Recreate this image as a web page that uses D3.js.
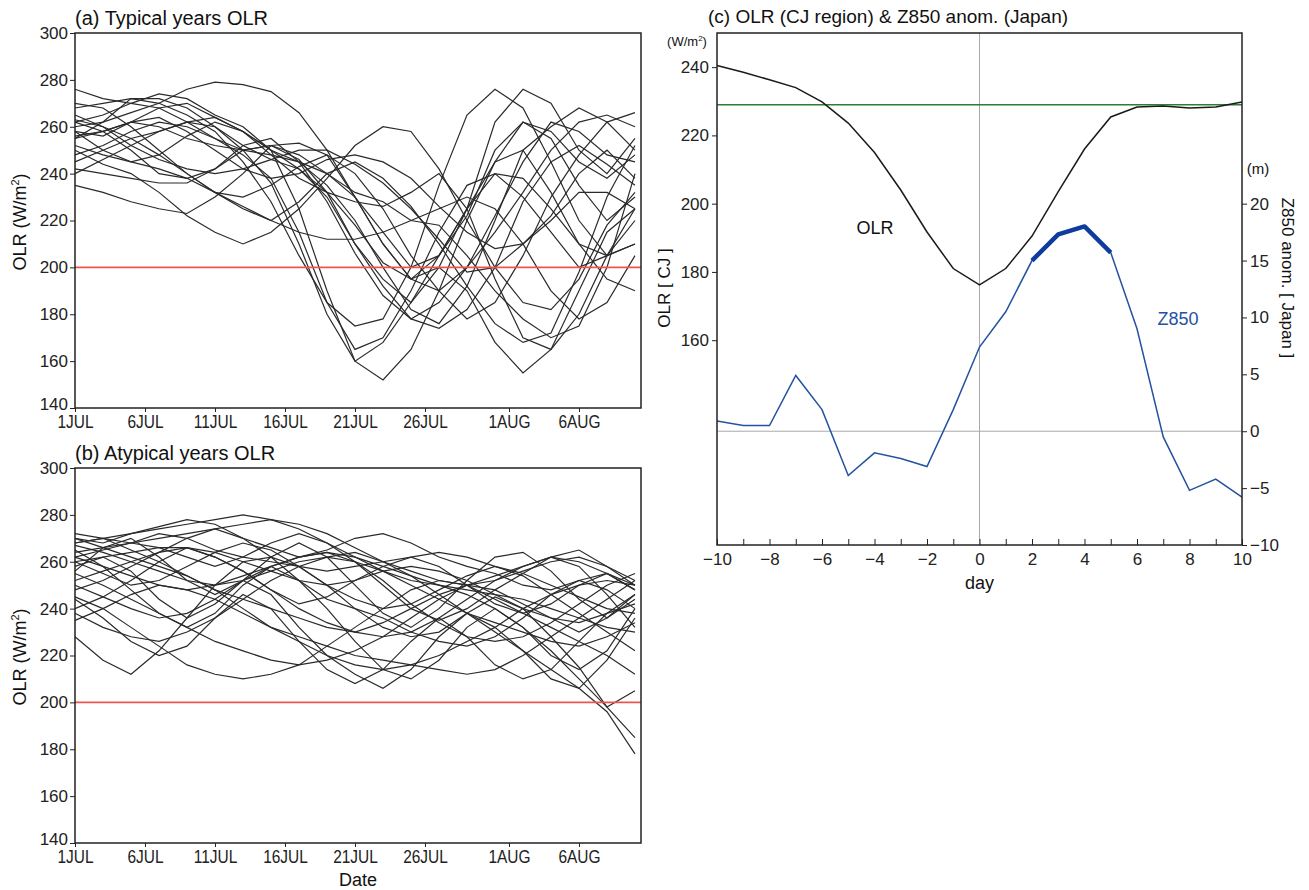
<!DOCTYPE html>
<html>
<head>
<meta charset="utf-8">
<script src="https://cdn.jsdelivr.net/npm/d3@7"></script>
<style>
  body { margin: 0; background: #fff; }
  svg { font-family: "Liberation Sans", Arial, sans-serif; }
</style>
</head>
<body>
<svg id="chart" width="1309" height="890"></svg>
<script>
// days since 1 JUL (every 2nd day)
const days = [0, 2, 4, 6, 8, 10, 12, 14, 16, 18, 20, 22, 24, 26, 28, 30, 32, 34, 36, 38, 40];
const dateTicks = [0, 5, 10, 15, 20, 25, 31, 36];
const dateLabels = ["1JUL", "6JUL", "11JUL", "16JUL", "21JUL", "26JUL", "1AUG", "6AUG"];
const olrTicks = [140, 160, 180, 200, 220, 240, 260, 280, 300];

// (a) typical years
const typical = [
  [276,272,270,268,262,255,248,238,215,185,165,170,190,215,235,240,230,215,200,205,220],
  [262,265,270,274,272,265,260,250,225,190,160,152,165,190,220,245,262,255,235,220,230],
  [260,262,266,270,276,279,278,275,266,250,230,210,195,200,225,262,276,270,250,240,255],
  [255,258,262,260,255,252,250,248,245,240,230,215,200,205,222,250,262,258,245,238,248],
  [258,250,245,248,256,262,258,248,238,232,228,226,232,240,225,195,170,165,180,205,225],
  [248,252,258,262,260,255,250,252,248,240,232,228,220,218,205,190,178,170,175,200,240],
  [240,246,252,258,262,260,250,236,210,180,160,168,185,205,225,240,238,225,210,205,210],
  [262,258,250,240,238,242,252,255,245,228,206,188,178,185,200,222,245,262,258,248,245],
  [258,256,262,268,270,264,258,250,242,230,210,195,185,200,190,168,155,165,190,215,225],
  [235,232,228,225,223,230,240,252,253,248,230,210,195,190,200,215,232,250,262,265,260],
  [252,248,245,242,238,232,225,220,228,240,245,238,226,210,192,176,168,172,198,230,252],
  [270,268,260,250,240,232,226,220,215,212,212,215,220,225,230,225,210,190,178,185,205],
  [245,250,255,258,262,264,258,250,245,235,220,200,182,176,192,220,250,260,268,262,250],
  [255,262,272,272,268,260,252,246,242,232,218,202,195,205,225,245,250,232,210,195,190],
  [265,260,252,246,242,240,242,246,250,250,244,236,225,212,198,200,210,222,240,250,238],
  [250,244,240,232,222,215,210,215,225,238,252,260,258,242,220,200,185,182,195,218,232],
  [268,270,272,270,265,258,245,228,205,185,175,178,200,235,265,276,268,245,220,205,210],
  [242,240,238,236,236,242,250,252,246,232,210,192,178,174,182,200,228,245,252,244,235],
  [256,258,262,264,258,250,242,238,240,246,248,245,238,226,215,208,210,220,232,232,225],
  [263,260,255,248,240,232,230,235,243,248,240,225,205,190,178,185,205,230,248,262,266]
];

// (b) atypical years
const atypical = [
  [270,268,272,275,278,276,270,266,262,265,270,272,268,262,258,255,250,248,252,255,250],
  [262,265,268,272,270,265,262,260,258,256,258,260,262,264,262,258,255,250,245,240,238],
  [268,270,268,266,262,258,262,268,272,268,260,250,240,235,240,248,255,262,265,258,250],
  [240,245,252,260,266,262,256,248,242,245,252,258,262,258,250,242,238,242,250,255,248],
  [228,218,212,222,236,250,260,262,258,250,240,232,228,230,238,245,240,228,215,198,185],
  [260,255,250,252,258,264,268,265,258,250,244,240,242,248,254,258,254,246,238,230,222],
  [265,258,248,238,232,238,250,258,252,240,226,214,210,218,232,240,232,220,214,222,240],
  [272,270,265,260,254,248,244,240,236,232,230,234,240,246,250,248,242,236,230,236,244],
  [248,252,258,264,270,274,270,262,252,244,240,236,230,226,224,228,236,246,252,248,240],
  [255,250,244,238,232,226,222,218,216,218,222,228,236,244,250,254,258,262,260,255,248],
  [238,232,228,226,230,236,244,252,258,262,264,260,254,246,238,230,222,214,206,196,178],
  [267,264,260,256,252,250,252,256,260,262,260,256,252,250,248,246,244,240,236,232,230],
  [258,262,256,244,236,242,252,246,232,220,212,206,214,228,238,232,222,210,206,218,236],
  [250,245,240,236,238,244,252,258,262,264,260,252,242,234,228,226,228,234,242,250,255],
  [264,266,268,270,272,274,276,278,276,272,266,260,256,252,250,252,256,260,262,258,252],
  [245,240,232,224,216,212,210,212,216,224,232,240,248,252,250,244,238,232,226,220,212],
  [270,266,262,258,254,248,240,232,226,220,216,214,216,220,226,232,240,246,250,252,250],
  [252,256,260,264,266,262,256,248,240,234,230,228,230,236,244,252,258,262,258,246,232],
  [262,258,254,250,248,250,254,258,262,264,262,258,254,250,246,240,232,222,210,198,205],
  [235,240,246,250,248,244,238,232,228,224,220,218,216,214,212,214,220,228,236,244,252],
  [268,270,272,274,276,278,280,278,274,268,262,256,250,244,238,234,230,226,224,228,234],
  [256,266,270,262,252,246,252,262,268,262,250,238,232,240,252,262,264,256,244,236,246],
  [244,236,226,220,224,236,246,240,226,214,208,214,226,236,228,216,210,214,226,238,246],
  [260,262,264,266,266,264,260,256,252,250,252,256,258,256,252,246,240,236,234,238,242]
];

// (c) composite
const lagDays = [-10,-9,-8,-7,-6,-5,-4,-3,-2,-1,0,1,2,3,4,5,6,7,8,9,10];
const olrCJ = [240.5,238.5,236.3,234,229.8,223.6,215,204,191.7,181,176.2,181,190.5,203.5,216,225.4,228.3,228.6,228,228.3,229.8];
const z850 = [0.9,0.5,0.5,4.9,1.9,-3.9,-1.9,-2.4,-3.1,1.9,7.4,10.5,15,17.3,18,15.7,9,-0.5,-5.2,-4.2,-5.8];
const olrMean = 229;
const redLine = 200;
const olrTicksC = [160, 180, 200, 220, 240];
const zTicks = [-10, -5, 0, 5, 10, 15, 20];

const svg = d3.select("#chart");

function spaghetti(series, top, title, showDateLabel) {
  const x = d3.scaleLinear().domain([0, 40.43]).range([75, 641]);
  const y = d3.scaleLinear().domain([140, 300]).range([top + 375, top]);
  const g = svg.append("g");

  const line = d3.line().x((d, i) => x(days[i])).y(d => y(d));
  g.selectAll("path.yr").data(series).enter()
    .append("path")
    .attr("class", "yr")
    .attr("d", line)
    .attr("fill", "none")
    .attr("stroke", "#2a2a2a")
    .attr("stroke-width", 1.2);

  g.append("line")
    .attr("x1", x(0)).attr("x2", 641)
    .attr("y1", y(redLine)).attr("y2", y(redLine))
    .attr("stroke", "#ef5350").attr("stroke-width", 1.6);

  g.append("rect")
    .attr("x", 75).attr("y", top).attr("width", 566).attr("height", 375)
    .attr("fill", "none").attr("stroke", "#222").attr("stroke-width", 1.5);

  const ya = g.append("g").attr("transform", "translate(75,0)")
    .call(d3.axisLeft(y).tickValues(olrTicks).tickSize(5).tickPadding(2));
  ya.select(".domain").remove();
  ya.selectAll("text").attr("font-size", 17).attr("fill", "#222");
  ya.selectAll("line").attr("stroke", "#222");
  ya.selectAll(".tick").filter(d => d === 140).select("text").attr("dy", "0.1em");

  const xa = g.append("g").attr("transform", `translate(0,${top + 375})`)
    .call(d3.axisBottom(x).tickValues(dateTicks).tickFormat((d, i) => dateLabels[i]).tickSize(4).tickPadding(3));
  xa.select(".domain").remove();
  xa.selectAll("text").attr("font-size", 18).attr("fill", "#222")
    .attr("transform", "scale(0.86,1)")
    .style("font-family", "Liberation Sans Narrow, Liberation Sans, Arial");
  xa.selectAll("line").attr("stroke", "#222");

  svg.append("text").attr("x", 75).attr("y", top - 8).attr("font-size", 20).attr("fill", "#111").text(title);

  const ly = svg.append("text")
    .attr("transform", `translate(26,${top + 189}) rotate(-90)`)
    .attr("text-anchor", "middle").attr("font-size", 18).attr("fill", "#111");
  ly.append("tspan").text("OLR (W/m");
  ly.append("tspan").attr("font-size", 11).attr("dy", -7).text("2");
  ly.append("tspan").attr("dy", 7).text(")");

  if (showDateLabel) {
    svg.append("text").attr("x", 358).attr("y", 886).attr("text-anchor", "middle")
      .attr("font-size", 18).attr("fill", "#111").text("Date");
  }
}

spaghetti(typical, 33, "(a) Typical years OLR", false);
spaghetti(atypical, 468, "(b) Atypical years OLR", true);

// panel (c)
const xc = d3.scaleLinear().domain([-10, 10]).range([717, 1242]);
const yl = d3.scaleLinear().domain([100, 250]).range([545, 33]);
const yr = d3.scaleLinear().domain([-10, 35]).range([545, 33]);
const gc = svg.append("g");

gc.append("line").attr("x1", xc(0)).attr("x2", xc(0)).attr("y1", 33).attr("y2", 545)
  .attr("stroke", "#aaa").attr("stroke-width", 1);
gc.append("line").attr("x1", 717).attr("x2", 1242).attr("y1", yr(0)).attr("y2", yr(0))
  .attr("stroke", "#aaa").attr("stroke-width", 1);
gc.append("line").attr("x1", 717).attr("x2", 1242).attr("y1", yl(olrMean)).attr("y2", yl(olrMean))
  .attr("stroke", "#2e7d32").attr("stroke-width", 1.6);

gc.append("path")
  .attr("d", d3.line().x((d, i) => xc(lagDays[i])).y(d => yl(d))(olrCJ))
  .attr("fill", "none").attr("stroke", "#1a1a1a").attr("stroke-width", 1.5);

gc.append("path")
  .attr("d", d3.line().x((d, i) => xc(lagDays[i])).y(d => yr(d))(z850))
  .attr("fill", "none").attr("stroke", "#2452a0").attr("stroke-width", 1.5);

// significant part (day 2 to 5)
const sig = lagDays.map((d, i) => [d, z850[i]]).filter(p => p[0] >= 2 && p[0] <= 5);
gc.append("path")
  .attr("d", d3.line().x(p => xc(p[0])).y(p => yr(p[1]))(sig))
  .attr("fill", "none").attr("stroke", "#0d3c9e").attr("stroke-width", 4.5)
  .attr("stroke-linejoin", "round");

gc.append("rect").attr("x", 717).attr("y", 33).attr("width", 525).attr("height", 512)
  .attr("fill", "none").attr("stroke", "#222").attr("stroke-width", 1.5);

const minus = d => d < 0 ? "\u2212" + (-d) : d;
const axL = gc.append("g").attr("transform", "translate(717,0)")
  .call(d3.axisLeft(yl).tickValues(olrTicksC).tickSize(5).tickPadding(3));
const axR = gc.append("g").attr("transform", "translate(1242,0)")
  .call(d3.axisRight(yr).tickValues(zTicks).tickSize(5).tickPadding(3).tickFormat(minus));
const axB = gc.append("g").attr("transform", "translate(0,545)")
  .call(d3.axisBottom(xc).tickValues(d3.range(-10, 11, 2)).tickSize(0).tickPadding(8).tickFormat(minus));
gc.append("g").attr("transform", "translate(0,545)")
  .call(d3.axisTop(xc).tickValues(d3.range(-10, 11, 1)).tickSize(6).tickFormat(""))
  .call(a => a.select(".domain").remove())
  .selectAll("line").attr("stroke", "#222");
[axL, axR, axB].forEach(a => {
  a.select(".domain").remove();
  a.selectAll("text").attr("font-size", 17).attr("fill", "#222");
  a.selectAll("line").attr("stroke", "#222");
});

svg.append("text").attr("x", 708).attr("y", 23).attr("font-size", 19).attr("fill", "#111")
  .text("(c) OLR (CJ region) & Z850 anom. (Japan)");
const wm = svg.append("text").attr("x", 687).attr("y", 46).attr("text-anchor", "middle").attr("font-size", 13).attr("fill", "#111");
wm.append("tspan").text("(W/m");
wm.append("tspan").attr("font-size", 8).attr("dy", -5).text("2");
wm.append("tspan").attr("dy", 5).text(")");
svg.append("text").attr("x", 1258).attr("y", 174).attr("text-anchor", "middle").attr("font-size", 15).attr("fill", "#111").text("(m)");
svg.append("text").attr("transform", "translate(670,288) rotate(-90)").attr("text-anchor", "middle")
  .attr("font-size", 17).attr("fill", "#111").text("OLR [ CJ ]");
svg.append("text").attr("transform", "translate(1282,278) rotate(90)").attr("text-anchor", "middle")
  .attr("font-size", 17).attr("fill", "#111").text("Z850 anom. [ Japan ]");
svg.append("text").attr("x", xc(0)).attr("y", 589).attr("text-anchor", "middle")
  .attr("font-size", 18).attr("fill", "#111").text("day");
svg.append("text").attr("x", 875).attr("y", 234).attr("text-anchor", "middle")
  .attr("font-size", 18).attr("fill", "#111").text("OLR");
svg.append("text").attr("x", 1178).attr("y", 325).attr("text-anchor", "middle")
  .attr("font-size", 18).attr("fill", "#2452a0").text("Z850");
</script>
</body>
</html>
